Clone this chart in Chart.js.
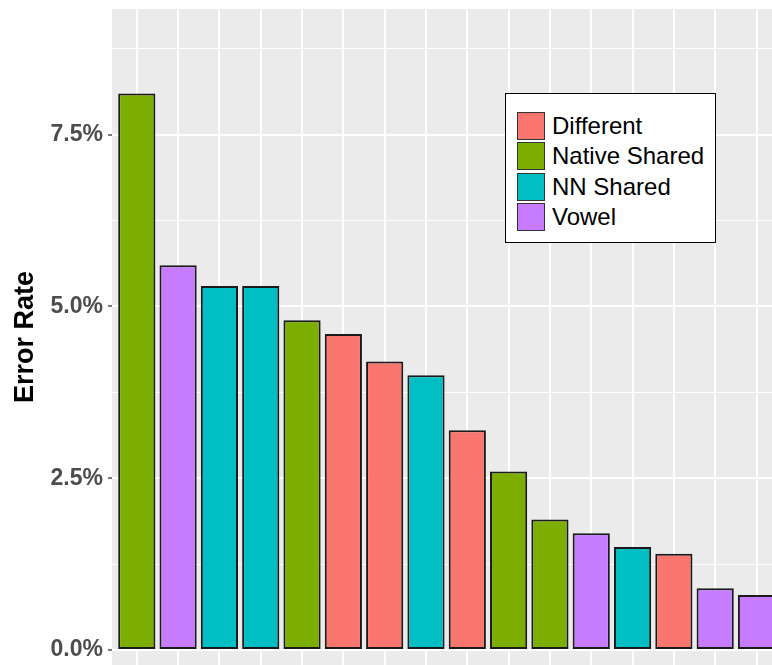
<!DOCTYPE html>
<html>
<head>
<meta charset="utf-8">
<script src="https://cdn.jsdelivr.net/npm/chart.js@4/dist/chart.umd.min.js"></script>
<style>
  html, body { margin: 0; padding: 0; background: #fff; }
  #wrap { position: relative; width: 772px; height: 665px; overflow: hidden; }
  #legend {
    position: absolute; left: 505px; top: 93px; width: 209px; height: 148px;
    background: #fff; border: 1px solid #000;
    font: 24px "Liberation Sans", Arial, sans-serif; color: #000;
  }
  .item { position: absolute; left: 11px; height: 28px; display: flex; align-items: center; white-space: nowrap; }
  .key { width: 26px; height: 26px; border: 1px solid #333; margin-right: 7px; }
</style>
</head>
<body>
<div id="wrap">
  <canvas id="chart" width="772" height="665"></canvas>
  <div id="legend"></div>
</div>
<script>
// groups and colours (ggplot default hues)
const groupNames = ['Different', 'Native Shared', 'NN Shared', 'Vowel'];
const groupColors = ['#F8766D', '#7CAE00', '#00BFC4', '#C77CFF'];

// one entry per bar, left to right
const barGroups = ['Native Shared', 'Vowel', 'NN Shared', 'NN Shared', 'Native Shared', 'Different',
  'Different', 'NN Shared', 'Different', 'Native Shared', 'Native Shared', 'Vowel',
  'NN Shared', 'Different', 'Vowel', 'Vowel'];
const errorRates = [8.1, 5.6, 5.3, 5.3, 4.8, 4.6, 4.2, 4.0, 3.2, 2.6, 1.9, 1.7, 1.5, 1.4, 0.9, 0.8];

// y axis
const yTickValues = [0, 2.5, 5, 7.5];
const yTickLabels = ['0.0%', '2.5%', '5.0%', '7.5%'];
const yMinorValues = [1.25, 3.75, 6.25, 8.75];

Chart.defaults.font.family = '"Liberation Sans", Arial, sans-serif';

// legend
const legend = document.getElementById('legend');
groupNames.forEach((name, i) => {
    const item = document.createElement('div');
    item.className = 'item';
    item.style.top = (18 + i * 30.3) + 'px';
    item.innerHTML = '<span class="key" style="background:' + groupColors[i] + '"></span>' + name;
    legend.appendChild(item);
});

// grey panel behind the grid
const panelBg = {
    id: 'panelBg',
    beforeDraw(chart) {
        const { ctx, chartArea: a } = chart;
        ctx.save();
        ctx.fillStyle = '#EBEBEB';
        ctx.fillRect(a.left, a.top, a.right - a.left, a.bottom - a.top);
        ctx.restore();
    }
};

const isMajor = (v) => yTickValues.some(t => Math.abs(t - v) < 1e-6);

new Chart(document.getElementById('chart'), {
    type: 'bar',
    data: {
        datasets: [{
            data: errorRates.map((v, i) => ({ x: i, y: v })),
            backgroundColor: barGroups.map(g => groupColors[groupNames.indexOf(g)]),
            borderColor: '#1a1a1a',
            borderWidth: 2,
            borderSkipped: false,
            barPercentage: 0.9,
            categoryPercentage: 1
        }]
    },
    options: {
        responsive: false,
        animation: false,
        devicePixelRatio: 1,
        layout: { padding: { top: 9, left: 0, right: 0, bottom: 0 } },
        plugins: { legend: { display: false }, tooltip: { enabled: false } },
        scales: {
            x: {
                type: 'linear',
                offset: false,
                min: -0.6,
                max: 15.375,
                afterBuildTicks: (s) => { s.ticks = errorRates.map((v, i) => ({ value: i })); },
                afterFit: (s) => {
                    s.height = 0;
                    s.paddingLeft = 0; s.paddingRight = 0;
                },
                ticks: { display: false },
                grid: { color: '#ffffff', lineWidth: 2, drawTicks: false, offset: false },
                border: { display: false }
            },
            y: {
                min: -0.218,
                max: 9.33,
                afterBuildTicks: (s) => {
                    s.ticks = yTickValues.concat(yMinorValues).sort((a, b) => a - b).map(v => ({ value: v }));
                },
                afterFit: (s) => {
                    s.width = 112;
                    s.paddingTop = 0; s.paddingBottom = 0;
                },
                ticks: {
                    padding: 5,
                    color: '#4D4D4D',
                    font: { size: 23, weight: 'bold' },
                    callback: (v) => {
                        const i = yTickValues.findIndex(t => Math.abs(t - v) < 1e-6);
                        return i >= 0 ? yTickLabels[i] : '';
                    }
                },
                grid: {
                    color: '#ffffff',
                    lineWidth: (c) => isMajor(c.tick.value) ? 2 : 1,
                    tickColor: (c) => isMajor(c.tick.value) ? '#4D4D4D' : 'rgba(0,0,0,0)',
                    tickLength: 4,
                    tickWidth: 1.5
                },
                border: { display: false },
                title: {
                    display: true,
                    text: 'Error Rate',
                    color: '#000',
                    font: { size: 27, weight: 'bold' },
                    padding: { top: 9, bottom: 0 }
                }
            }
        }
    },
    plugins: [panelBg]
});
</script>
</body>
</html>
